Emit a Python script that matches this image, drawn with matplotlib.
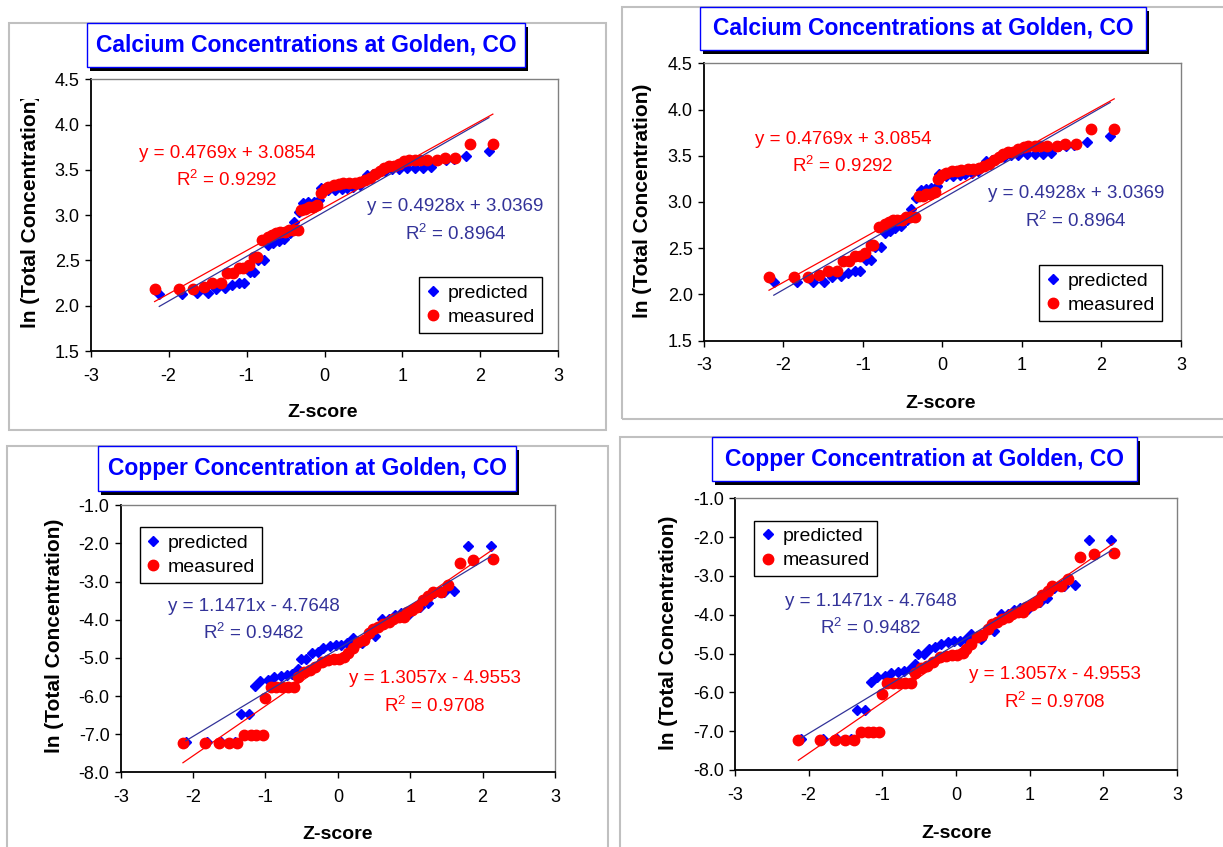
import numpy as np
import matplotlib
matplotlib.use("Agg")
import matplotlib.pyplot as plt
from matplotlib.patches import Rectangle
from matplotlib.transforms import Bbox

W, H = 1223, 847

plt.rcParams['font.family'] = ['Liberation Sans', 'DejaVu Sans']
plt.rcParams['mathtext.fontset'] = 'custom'
plt.rcParams['mathtext.rm'] = 'Liberation Sans'
plt.rcParams['axes.unicode_minus'] = False

# ---- Calcium: z-score vs ln(total concentration) ----
ca_meas_z = [-2.18, -1.87, -1.69, -1.55, -1.44, -1.33, -1.25, -1.18, -1.10, -1.04,
             -0.97, -0.90, -0.87, -0.80, -0.72, -0.67, -0.62, -0.57, -0.51, -0.46,
             -0.41, -0.34, -0.30, -0.25, -0.20, -0.15, -0.09, -0.05, 0.00, 0.05,
             0.12, 0.18, 0.24, 0.32, 0.39, 0.46, 0.52, 0.59, 0.65, 0.71,
             0.76, 0.83, 0.89, 0.95, 1.02, 1.08, 1.16, 1.23, 1.32, 1.44,
             1.54, 1.68, 1.87, 2.16]
ca_meas_y = [2.19, 2.19, 2.19, 2.21, 2.25, 2.25, 2.36, 2.36, 2.42, 2.42,
             2.45, 2.54, 2.54, 2.73, 2.76, 2.78, 2.80, 2.81, 2.81, 2.84,
             2.84, 2.84, 3.06, 3.07, 3.09, 3.09, 3.11, 3.25, 3.29, 3.31,
             3.33, 3.34, 3.35, 3.36, 3.36, 3.37, 3.39, 3.41, 3.45, 3.49,
             3.52, 3.54, 3.54, 3.57, 3.60, 3.61, 3.61, 3.61, 3.61, 3.61,
             3.63, 3.63, 3.79, 3.79]
ca_pred_z = [-2.12, -1.83, -1.63, -1.49, -1.39, -1.28, -1.19, -1.10, -1.03, -0.96,
             -0.90, -0.85, -0.77, -0.72, -0.66, -0.59, -0.52, -0.44, -0.39, -0.33,
             -0.27, -0.21, -0.14, -0.07, -0.04, 0.04, 0.13, 0.22, 0.29, 0.37,
             0.45, 0.55, 0.62, 0.70, 0.78, 0.86, 0.95, 1.06, 1.16, 1.27,
             1.37, 1.46, 1.56, 1.66, 1.82, 2.11]
ca_pred_y = [2.13, 2.13, 2.14, 2.14, 2.19, 2.20, 2.23, 2.25, 2.25, 2.37,
             2.37, 2.51, 2.51, 2.67, 2.69, 2.72, 2.74, 2.80, 2.92, 3.04,
             3.13, 3.14, 3.15, 3.17, 3.30, 3.28, 3.28, 3.29, 3.30, 3.31,
             3.33, 3.44, 3.45, 3.48, 3.49, 3.51, 3.51, 3.52, 3.52, 3.52,
             3.53, 3.61, 3.61, 3.62, 3.65, 3.71]
ca_meas_fit = (0.4769, 3.0854, 0.9292)
ca_pred_fit = (0.4928, 3.0369, 0.8964)

# ---- Copper ----
cu_meas_z = [-2.14, -1.84, -1.64, -1.50, -1.39, -1.29, -1.20, -1.13, -1.04, -1.00,
             -0.93, -0.85, -0.77, -0.69, -0.61, -0.55, -0.47, -0.39, -0.31, -0.22,
             -0.14, -0.06, 0.02, 0.09, 0.14, 0.21, 0.28, 0.36, 0.43, 0.49,
             0.56, 0.62, 0.70, 0.76, 0.84, 0.91, 0.95, 1.03, 1.10, 1.17,
             1.25, 1.31, 1.43, 1.52, 1.69, 1.87, 2.14]
cu_meas_y = [-7.22, -7.22, -7.22, -7.22, -7.22, -7.03, -7.03, -7.03, -7.03, -6.04,
             -5.76, -5.76, -5.76, -5.76, -5.76, -5.51, -5.37, -5.32, -5.23, -5.10,
             -5.06, -5.04, -5.04, -4.99, -4.88, -4.75, -4.58, -4.52, -4.36, -4.25,
             -4.18, -4.11, -4.05, -3.97, -3.94, -3.94, -3.79, -3.75, -3.66, -3.48,
             -3.38, -3.27, -3.27, -3.09, -2.50, -2.43, -2.42]
cu_pred_z = [-2.10, -1.81, -1.62, -1.42, -1.34, -1.23, -1.15, -1.07, -0.97, -0.88,
             -0.79, -0.70, -0.63, -0.55, -0.51, -0.44, -0.36, -0.28, -0.20, -0.11,
             -0.03, 0.05, 0.13, 0.21, 0.34, 0.43, 0.51, 0.61, 0.70, 0.79,
             0.87, 0.98, 1.14, 1.24, 1.33, 1.47, 1.61, 1.80, 2.11]
cu_pred_y = [-7.20, -7.20, -7.20, -7.20, -6.46, -6.46, -5.74, -5.60, -5.58, -5.51,
             -5.48, -5.45, -5.41, -5.28, -5.02, -5.02, -4.88, -4.84, -4.75, -4.69,
             -4.67, -4.67, -4.62, -4.49, -4.62, -4.38, -4.43, -3.97, -3.97, -3.88,
             -3.83, -3.85, -3.66, -3.57, -3.31, -3.27, -3.24, -2.08, -2.08]
cu_meas_fit = (1.3057, -4.9553, 0.9708)
cu_pred_fit = (1.1471, -4.7648, 0.9482)

x_ticks = [-3, -2, -1, 0, 1, 2, 3]
ca_y_ticks = [1.5, 2.0, 2.5, 3.0, 3.5, 4.0, 4.5]
cu_y_ticks = [-8.0, -7.0, -6.0, -5.0, -4.0, -3.0, -2.0, -1.0]

BLUE = '#0000ff'
RED = '#ff0000'
FIT_BLUE = '#333399'

datasets = {
    'ca': dict(title='Calcium Concentrations at Golden, CO',
               pred=(ca_pred_z, ca_pred_y, ca_pred_fit),
               meas=(ca_meas_z, ca_meas_y, ca_meas_fit),
               yticks=ca_y_ticks,
               legend_anchor=(0.703, 0.272),
               pred_txt=(1.68, 3.09, 2.80), meas_txt=(-1.25, 3.68, 3.39)),
    'cu': dict(title='Copper Concentration at Golden, CO',
               pred=(cu_pred_z, cu_pred_y, cu_pred_fit),
               meas=(cu_meas_z, cu_meas_y, cu_meas_fit),
               yticks=cu_y_ticks,
               legend_anchor=(0.044, 0.918),
               pred_txt=(-1.16, -3.66, -4.33), meas_txt=(1.34, -5.54, -6.24)),
}

# pixel layout of the four panels (x0, y0, x1, y1 from top-left)
panels = [
    dict(kind='ca', box=(9, 23, 606, 430), title=(87, 23, 525, 67),
         axes=(90.7, 79.3, 558.3, 351), ylab=(31, 328, 99), xlab=(323, 412)),
    dict(kind='ca', box=(622, 7, 1240, 419), title=(700, 7, 1146, 50),
         axes=(703.8, 63.3, 1181, 340.7), ylab=(642, 318, 82), xlab=(941, 403)),
    dict(kind='cu', box=(7, 446, 608, 870), title=(98, 446, 516, 491),
         axes=(120.7, 505.3, 555, 772.3), ylab=(55, 753, 520), xlab=(338, 834)),
    dict(kind='cu', box=(620, 437, 1240, 870), title=(712, 437, 1137, 481),
         axes=(735, 498.3, 1176.9, 770), ylab=(668, 750, 505), xlab=(957, 833)),
]


def fig_rect(x0, y0, x1, y1):
    return [x0 / W, 1 - y1 / H, (x1 - x0) / W, (y1 - y0) / H]


def fxy(x, y):
    return x / W, 1 - y / H


fig = plt.figure(figsize=(W / 100, H / 100), dpi=100)
fig.patch.set_facecolor('white')


def draw_panel(p):
    d = datasets[p['kind']]

    # outer chart border
    x0, y0, w, h = fig_rect(*p['box'])
    fig.patches.append(Rectangle((x0, y0), w, h, transform=fig.transFigure,
                                 fill=False, edgecolor='#c0c0c0', lw=1.5))

    ax = fig.add_axes(fig_rect(*p['axes']))
    zp, yp, fp = d['pred']
    zm, ym, fm = d['meas']
    hp, = ax.plot(zp, yp, linestyle='none', marker='D', ms=5.5, color=BLUE,
                  label='predicted', zorder=3)
    hm, = ax.plot(zm, ym, linestyle='none', marker='o', ms=7.5, color=RED,
                  label='measured', zorder=4)

    # linear trendlines over each series' range
    zz = np.array([min(zp), max(zp)])
    ax.plot(zz, fp[0] * zz + fp[1], color=FIT_BLUE, lw=0.9, zorder=5)
    zz = np.array([min(zm), max(zm)])
    ax.plot(zz, fm[0] * zz + fm[1], color=RED, lw=0.9, zorder=5)

    def eq(f):
        sign = '+' if f[1] >= 0 else '-'
        return 'y = %.4fx %s %.4f' % (f[0], sign, abs(f[1]))

    tx, ty1, ty2 = d['pred_txt']
    ax.text(tx, ty1, eq(fp), ha='center', va='center', color=FIT_BLUE, fontsize=13.5)
    ax.text(tx, ty2, 'R$^2$ = %.4f' % fp[2], ha='center', va='center',
            color=FIT_BLUE, fontsize=13.5)
    tx, ty1, ty2 = d['meas_txt']
    ax.text(tx, ty1, eq(fm), ha='center', va='center', color=RED, fontsize=13.5)
    ax.text(tx, ty2, 'R$^2$ = %.4f' % fm[2], ha='center', va='center',
            color=RED, fontsize=13.5)

    yt = d['yticks']
    ax.set_xlim(-3, 3)
    ax.set_ylim(yt[0], yt[-1])
    ax.set_xticks(x_ticks)
    ax.set_xticklabels([str(t) for t in x_ticks])
    ax.set_yticks(yt)
    ax.set_yticklabels(['%.1f' % t for t in yt])
    ax.tick_params(axis='both', direction='out', length=4, width=1,
                   labelsize=13, colors='black')
    ax.tick_params(axis='x', pad=8)
    ax.tick_params(axis='y', pad=4)
    for s in ('left', 'bottom'):
        ax.spines[s].set_color('black')
        ax.spines[s].set_linewidth(1.3)
    for s in ('top', 'right'):
        ax.spines[s].set_color('#808080')
        ax.spines[s].set_linewidth(1.0)

    leg = ax.legend(handles=[hp, hm], loc='upper left',
                    bbox_to_anchor=d['legend_anchor'], borderaxespad=0,
                    fontsize=14, frameon=True, fancybox=False, framealpha=1,
                    edgecolor='black', borderpad=0.35, labelspacing=0.35,
                    handlelength=0.7, handletextpad=0.4, numpoints=1)
    leg.get_frame().set_linewidth(1.0)

    # title box with drop shadow
    tx0, ty0, tx1, ty1 = p['title']
    sx, sy, sw, sh = fig_rect(tx0 + 3, ty0 + 4, tx1 + 3, ty1 + 4)
    fig.patches.append(Rectangle((sx, sy), sw, sh, transform=fig.transFigure,
                                 facecolor='black', edgecolor='none', zorder=5))
    bx, by, bw, bh = fig_rect(tx0, ty0, tx1, ty1)
    fig.patches.append(Rectangle((bx, by), bw, bh, transform=fig.transFigure,
                                 facecolor='white', edgecolor=BLUE, lw=1,
                                 zorder=6))
    cx, cy = fxy((tx0 + tx1) / 2, (ty0 + ty1) / 2)
    fig.text(cx, cy, d['title'], ha='center', va='center', color=BLUE,
             fontsize=16.5, fontweight='bold', zorder=7)

    # axis labels
    lx, lbot, ltop = p['ylab']
    t = fig.text(*fxy(lx, lbot), 'ln (Total Concentration)', rotation=90,
                 rotation_mode='anchor', ha='left', va='center',
                 fontsize=15, fontweight='bold')
    t.set_clip_box(Bbox.from_extents(0, 0, W, H - ltop))
    t.set_clip_on(True)
    fig.text(*fxy(*p['xlab']), 'Z-score', ha='center', va='center',
             fontsize=14, fontweight='bold')


for p in panels:
    draw_panel(p)

fig.savefig('out.png', dpi=100, facecolor='white')
